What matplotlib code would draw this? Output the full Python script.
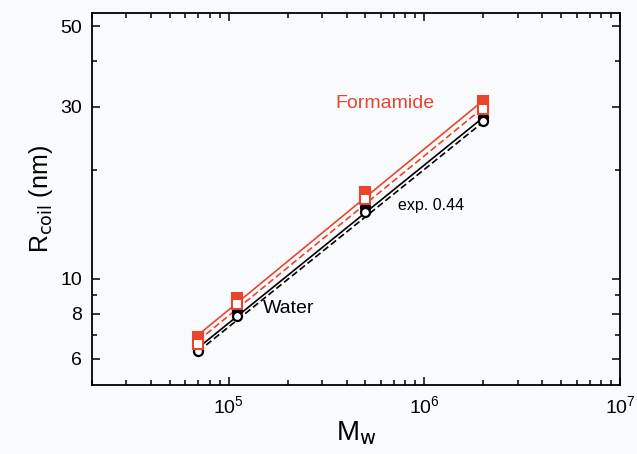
import matplotlib.pyplot as plt
from matplotlib.ticker import FixedLocator, NullFormatter

plt.rcParams['font.family'] = ['Liberation Sans', 'DejaVu Sans']

# molecular weights (g/mol)
mw = [7e4, 1.1e5, 5e5, 2e6]

# R_coil (nm)
form_filled = [6.9, 8.85, 17.4, 31.0]
form_open = [6.6, 8.5, 16.6, 29.5]
water_filled = [6.45, 8.15, 15.8, 28.0]
water_open = [6.3, 7.9, 15.3, 27.3]

# power-law fit lines (end values)
fit_x = [7e4, 2e6]
fit_form_filled = [7.0, 31.2]
fit_form_open = [6.75, 29.8]
fit_water_filled = [6.45, 28.0]
fit_water_open = [6.3, 27.2]

yticks = [6, 8, 10, 30, 50]
yminor = [7, 9, 20, 40]

red = '#e8452c'
bg = '#f9fafc'

fig = plt.figure(figsize=(6.37, 4.54), dpi=100, facecolor=bg)
ax = fig.add_axes([0.1444, 0.152, 0.829, 0.8194], facecolor=bg)

ax.plot(fit_x, fit_form_filled, '-', color=red, lw=1.2)
ax.plot(fit_x, fit_form_open, '--', color=red, lw=1.2, dashes=(4, 2))
ax.plot(fit_x, fit_water_filled, '-', color='black', lw=1.2)
ax.plot(fit_x, fit_water_open, '--', color='black', lw=1.2, dashes=(4, 2))

ax.plot(mw, water_filled, 'o', ms=6.5, mfc='black', mec='black', mew=1.6, ls='none')
ax.plot(mw, water_open, 'o', ms=6.5, mfc='white', mec='black', mew=1.6, ls='none')
ax.plot(mw, form_filled, 's', ms=7, mfc=red, mec=red, mew=1.5, ls='none')
ax.plot(mw, form_open, 's', ms=7, mfc='white', mec=red, mew=1.5, ls='none')

ax.set_xscale('log')
ax.set_yscale('log')
ax.set_xlim(2e4, 1e7)
ax.set_ylim(5.08, 54.5)

ax.yaxis.set_major_locator(FixedLocator(yticks))
ax.yaxis.set_minor_locator(FixedLocator(yminor))
ax.set_yticklabels([str(t) for t in yticks])
ax.yaxis.set_minor_formatter(NullFormatter())

ax.tick_params(which='both', direction='in', top=True, right=True,
               labelsize=14, width=1.1)
ax.tick_params(which='major', length=6, pad=7)
ax.tick_params(which='minor', length=3.5)
for s in ax.spines.values():
    s.set_linewidth(1.3)

ax.text(3.5e5, 30.5, 'Formamide', color=red, fontsize=14, va='center')
ax.text(7.3e5, 16.0, 'exp. 0.44', color='black', fontsize=11.5, va='center')
ax.text(1.5e5, 8.3, 'Water', color='black', fontsize=14, va='center')

ax.set_xlabel(r'M$_{\rm w}$', fontsize=20, labelpad=2)
ax.set_ylabel(r'R$_{\rm coil}$ (nm)', fontsize=18, labelpad=4)

fig.savefig('out.png', dpi=100, facecolor=bg)
